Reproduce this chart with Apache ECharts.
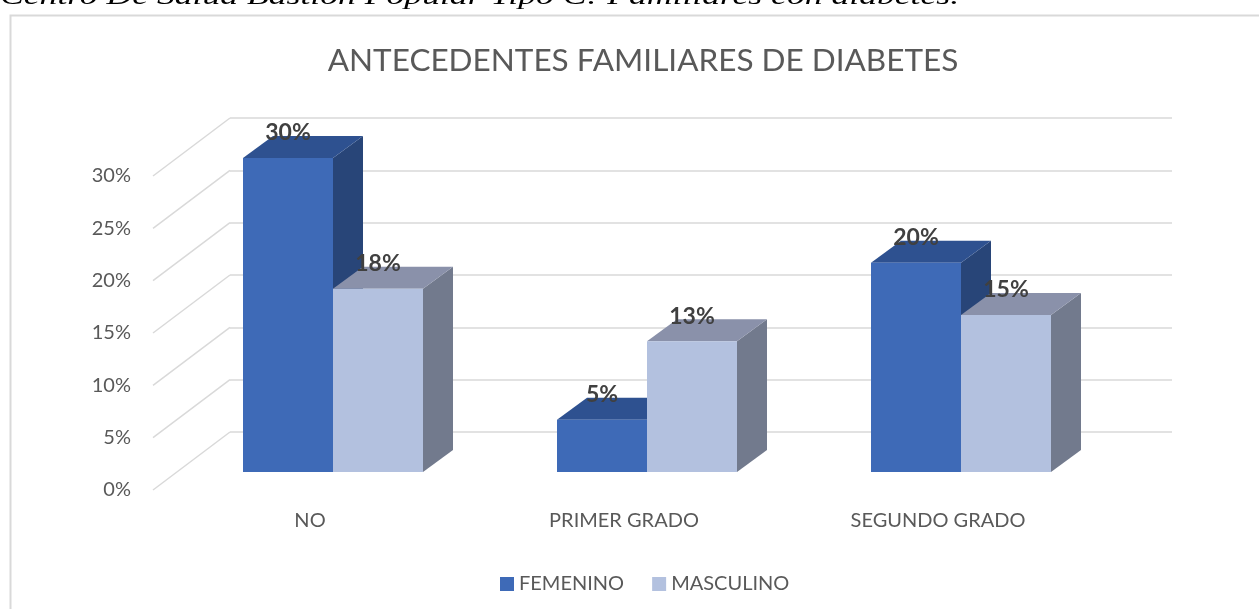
<!DOCTYPE html>
<html>
<head>
<meta charset="utf-8">
<script src="https://cdn.jsdelivr.net/npm/echarts@6/dist/echarts.min.js"></script>
<style>
  html, body { margin: 0; padding: 0; background: #fff; }
  #chart { width: 1259px; height: 609px; }
</style>
</head>
<body>
<div id="chart"></div>
<script>
// datos del grafico
const categories = ['NO', 'PRIMER GRADO', 'SEGUNDO GRADO']
const femenino = [30, 5, 20]
const masculino = [17.5, 12.5, 15]
const yTicks = [0, 5, 10, 15, 20, 25, 30]
const seriesNames = ['FEMENINO', 'MASCULINO']

const FONT = 'Lato'
const TXT = '#595959'
// profundidad del "3D": plano frontal -> pared del fondo
const DEPTH = [77, -58]
const BAR_DEPTH = [30, -22]
const BAR_RATIO = 90 / 314

const femColors = { front: '#3e6ab7', top: '#2e5190', side: '#284578' }
const mascColors = { front: '#b3c1df', top: '#8a91aa', side: '#727a8d' }

const chart = echarts.init(document.getElementById('chart'))

function barRenderer (side, c) {
  return function (params, api) {
    const idx = api.value(0)
    const val = api.value(1)
    const base = api.coord([idx, 0])
    const top = api.coord([idx, val])
    const w = api.size([1, 0])[0] * BAR_RATIO
    const x0 = side === 0 ? base[0] - w : base[0]
    const x1 = x0 + w
    const yb = base[1]
    const yt = top[1]
    const dx = BAR_DEPTH[0]
    const dy = BAR_DEPTH[1]
    return {
      type: 'group',
      children: [
        {
          type: 'polygon',
          shape: { points: [[x1, yt], [x1 + dx, yt + dy], [x1 + dx, yb + dy], [x1, yb]] },
          style: { fill: c.side }
        },
        {
          type: 'polygon',
          shape: { points: [[x0, yt], [x1, yt], [x1 + dx, yt + dy], [x0 + dx, yt + dy]] },
          style: { fill: c.top }
        },
        {
          type: 'rect',
          shape: { x: x0, y: yt, width: w, height: yb - yt },
          style: { fill: c.front }
        },
        {
          type: 'text',
          z2: 10,
          style: {
            text: Math.round(val) + '%',
            x: x0 + w / 2,
            y: yt - 25,
            textAlign: 'center',
            textVerticalAlign: 'middle',
            font: 'bold 23px ' + FONT,
            fill: '#404040'
          }
        }
      ]
    }
  }
}

const gridSize = { width: 942, height: 314 }

const option = {
  animation: false,
  title: {
    text: 'ANTECEDENTES FAMILIARES DE DIABETES',
    left: 638,
    textAlign: 'center',
    top: 40,
    textStyle: { fontFamily: FONT, fontSize: 31.5, fontWeight: 'normal', color: TXT }
  },
  graphic: [
    {
      type: 'rect',
      left: 8,
      top: 13,
      shape: { width: 1300, height: 700 },
      style: { fill: 'none', stroke: '#d9d9d9', lineWidth: 2 }
    },
    {
      // leyenda del documento, cortada arriba
      type: 'text',
      x: 0,
      y: 0,
      scaleX: 1.37,
      style: {
        text: 'Centro De Salud Bastión Popular Tipo C: Familiares con diabetes.',
        x: 0,
        y: -3,
        verticalAlign: 'middle',
        font: 'italic 26px "Liberation Serif"',
        fill: '#000'
      }
    }
  ],
  legend: {
    data: seriesNames,
    left: 495,
    top: 569,
    icon: 'rect',
    itemWidth: 14,
    itemHeight: 14,
    itemGap: 28,
    textStyle: { fontFamily: FONT, fontSize: 20, color: TXT }
  },
  grid: [
    Object.assign({ left: 153, top: 176 }, gridSize), // plano frontal
    Object.assign({ left: 176, top: 158 }, gridSize), // plano de las barras
    Object.assign({ left: 153 + DEPTH[0], top: 176 + DEPTH[1] }, gridSize) // pared del fondo
  ],
  xAxis: [
    {
      gridIndex: 0,
      type: 'category',
      data: categories,
      axisLine: { show: false },
      axisTick: { show: false },
      axisLabel: { margin: 21, fontFamily: FONT, fontSize: 20, color: TXT }
    },
    { gridIndex: 1, type: 'category', data: categories, show: false },
    { gridIndex: 2, type: 'category', data: categories, show: false }
  ],
  yAxis: [
    {
      gridIndex: 0,
      type: 'value',
      min: 0,
      max: 30,
      interval: 5,
      axisLine: { show: false },
      axisTick: { show: false },
      splitLine: { show: false },
      axisLabel: { formatter: '{value}%', margin: 22, fontFamily: FONT, fontSize: 20, color: TXT }
    },
    { gridIndex: 1, type: 'value', min: 0, max: 30, interval: 5, show: false },
    {
      gridIndex: 2,
      type: 'value',
      min: 0,
      max: 30,
      interval: 5,
      axisLine: { show: false },
      axisTick: { show: false },
      axisLabel: { show: false },
      splitLine: { show: true, lineStyle: { color: '#d9d9d9', width: 1.5 } }
    }
  ],
  series: [
    {
      // lineas diagonales del lateral izquierdo
      type: 'custom',
      silent: true,
      xAxisIndex: 0,
      yAxisIndex: 0,
      data: yTicks.map(v => [0, v]),
      encode: { x: 0, y: 1 },
      renderItem: function (params, api) {
        const x = params.coordSys.x
        const y = api.coord([0, api.value(1)])[1]
        return {
          type: 'line',
          shape: { x1: x, y1: y, x2: x + DEPTH[0], y2: y + DEPTH[1] },
          style: { stroke: '#d9d9d9', lineWidth: 1.5 }
        }
      }
    },
    {
      name: seriesNames[0],
      type: 'custom',
      xAxisIndex: 1,
      yAxisIndex: 1,
      itemStyle: { color: femColors.front },
      data: femenino.map((v, i) => [i, v]),
      encode: { x: 0, y: 1 },
      renderItem: barRenderer(0, femColors)
    },
    {
      name: seriesNames[1],
      type: 'custom',
      xAxisIndex: 1,
      yAxisIndex: 1,
      itemStyle: { color: mascColors.front },
      data: masculino.map((v, i) => [i, v]),
      encode: { x: 0, y: 1 },
      renderItem: barRenderer(1, mascColors)
    }
  ]
}

chart.setOption(option)
</script>
</body>
</html>
